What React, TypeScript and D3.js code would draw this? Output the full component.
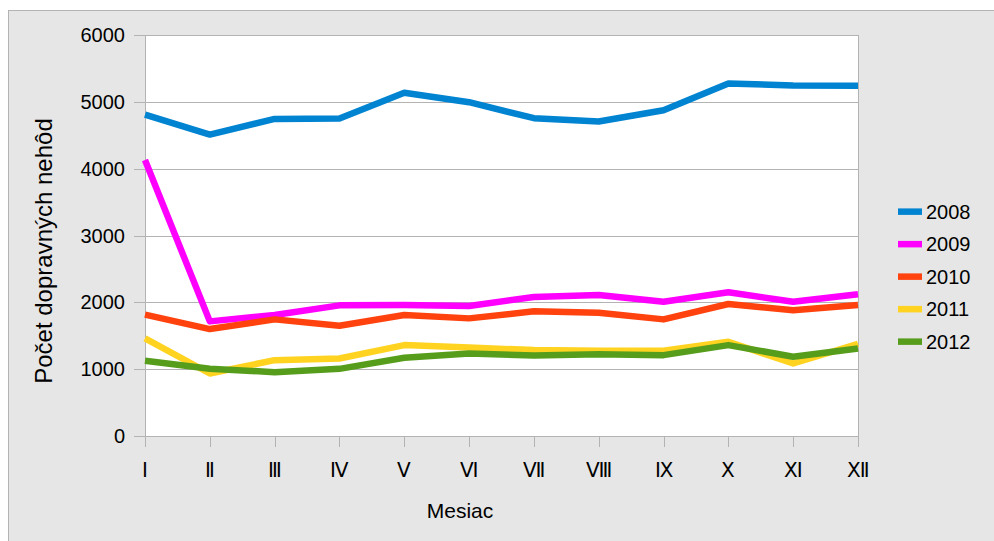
import React, { useEffect, useRef } from 'react';
import * as d3 from 'd3';

const months = ['Ⅰ', 'Ⅱ', 'Ⅲ', 'Ⅳ', 'Ⅴ', 'Ⅵ', 'Ⅶ', 'Ⅷ', 'Ⅸ', 'Ⅹ', 'Ⅺ', 'Ⅻ'];
const years = ['2008', '2009', '2010', '2011', '2012'];
const colors = ['#0084d1', '#ff00ff', '#ff420e', '#ffd320', '#579d1c'];

const v2008 = [4810, 4510, 4745, 4750, 5135, 4995, 4755, 4705, 4875, 5275, 5245, 5240];
const v2009 = [4130, 1715, 1810, 1955, 1960, 1945, 2080, 2110, 2010, 2150, 2010, 2120];
const v2010 = [1815, 1600, 1745, 1650, 1810, 1760, 1865, 1845, 1745, 1975, 1880, 1960];
const v2011 = [1460, 935, 1135, 1160, 1360, 1325, 1285, 1275, 1275, 1410, 1085, 1380];
const v2012 = [1125, 1005, 955, 1005, 1170, 1235, 1205, 1225, 1210, 1360, 1185, 1310];
const series = [v2008, v2009, v2010, v2011, v2012];

const yTicks = [0, 1000, 2000, 3000, 4000, 5000, 6000];

const LineChart = () => {
    const svgRef = useRef<SVGSVGElement>(null);

    useEffect(() => {
        const svg = d3.select(svgRef.current);
        svg.selectAll('*').remove();

        const width = 994;
        const height = 541;
        const plot = { left: 145, right: 858, top: 35, bottom: 436 };
        const font = '"Liberation Sans", Arial, sans-serif';

        // chart background
        svg.append('rect')
            .attr('x', 8.5).attr('y', 10.5)
            .attr('width', width).attr('height', height)
            .attr('fill', '#e6e6e6')
            .attr('stroke', '#b3b3b3');

        const x = d3.scalePoint<string>()
            .domain(months)
            .range([plot.left, plot.right]);

        const y = d3.scaleLinear()
            .domain([0, 6000])
            .range([plot.bottom, plot.top]);

        svg.append('rect')
            .attr('x', plot.left).attr('y', plot.top)
            .attr('width', plot.right - plot.left)
            .attr('height', plot.bottom - plot.top)
            .attr('fill', '#ffffff');

        // gridlines + left ticks
        svg.append('g')
            .selectAll('line')
            .data(yTicks)
            .join('line')
            .attr('x1', plot.left - 11)
            .attr('x2', plot.right)
            .attr('y1', d => Math.round(y(d)) + 0.5)
            .attr('y2', d => Math.round(y(d)) + 0.5)
            .attr('stroke', '#b3b3b3');

        svg.append('g')
            .selectAll('text')
            .data(yTicks)
            .join('text')
            .attr('x', plot.left - 20)
            .attr('y', d => y(d))
            .attr('dy', '0.35em')
            .attr('text-anchor', 'end')
            .attr('font-family', font)
            .attr('font-size', 20)
            .text(d => d);

        // axis frame
        svg.append('line')
            .attr('x1', plot.left + 0.5).attr('x2', plot.left + 0.5)
            .attr('y1', plot.top).attr('y2', plot.bottom)
            .attr('stroke', '#b3b3b3');
        svg.append('line')
            .attr('x1', plot.right + 0.5).attr('x2', plot.right + 0.5)
            .attr('y1', plot.top).attr('y2', plot.bottom)
            .attr('stroke', '#b3b3b3');

        // x ticks
        svg.append('g')
            .selectAll('line')
            .data(months)
            .join('line')
            .attr('x1', d => Math.round(x(d)!) + 0.5)
            .attr('x2', d => Math.round(x(d)!) + 0.5)
            .attr('y1', plot.bottom)
            .attr('y2', plot.bottom + 11)
            .attr('stroke', '#b3b3b3');

        svg.append('g')
            .selectAll('text')
            .data(months)
            .join('text')
            .attr('x', d => x(d)!)
            .attr('y', 477)
            .attr('text-anchor', 'middle')
            .attr('font-family', font)
            .attr('font-size', 20)
            .text(d => d);

        // lines
        const line = d3.line<number>()
            .x((d, i) => x(months[i])!)
            .y(d => y(d));

        svg.append('g')
            .selectAll('path')
            .data(series)
            .join('path')
            .attr('d', d => line(d))
            .attr('fill', 'none')
            .attr('stroke', (d, i) => colors[i])
            .attr('stroke-width', 6.5)
            .attr('stroke-linejoin', 'round');

        // axis titles
        svg.append('text')
            .attr('transform', 'translate(52,251) rotate(-90)')
            .attr('text-anchor', 'middle')
            .attr('font-family', font)
            .attr('font-size', 24)
            .text('Počet dopravných nehôd');

        svg.append('text')
            .attr('x', 460)
            .attr('y', 518)
            .attr('text-anchor', 'middle')
            .attr('font-family', font)
            .attr('font-size', 21)
            .text('Mesiac');

        // legend
        const legend = svg.append('g')
            .selectAll('g')
            .data(years)
            .join('g')
            .attr('transform', (d, i) => `translate(898,${211.7 + i * 32.5})`);

        legend.append('rect')
            .attr('x', 0).attr('y', -3.3)
            .attr('width', 24).attr('height', 6.5)
            .attr('fill', (d, i) => colors[i]);

        legend.append('text')
            .attr('x', 28)
            .attr('y', 0)
            .attr('dy', '0.36em')
            .attr('font-family', font)
            .attr('font-size', 20)
            .text(d => d);
    }, []);

    return <svg ref={svgRef} width={994} height={541}
        style={{ position: 'absolute', left: 0, top: 0 }}></svg>;
};

export default function App() {
    return <LineChart />;
}
